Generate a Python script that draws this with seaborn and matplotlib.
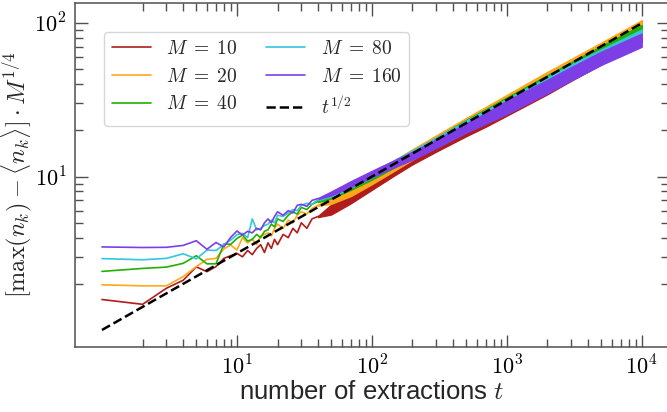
import math
import matplotlib
matplotlib.use("Agg")
import matplotlib.pyplot as plt
from matplotlib.lines import Line2D
from matplotlib.ticker import FixedLocator, FuncFormatter, NullFormatter
import seaborn as sns

# ---- data -------------------------------------------------------------
sizes = [10, 20, 40, 80, 160]
colors = ["#b01c1c", "#ffa71a", "#22b000", "#33c6dd", "#7d3ee6"]

# individual early-time values
t_early = list(range(1, 21)) + [22, 24, 26, 28, 30, 33, 36, 40]
early_m10 = [1.58, 1.47, 1.87, 2.11, 2.58, 2.40, 2.59, 2.93, 3.05, 3.16, 3.00, 3.30, 3.10, 3.40,
             3.60, 3.20, 3.70, 3.40, 3.90, 3.60, 4.20, 4.00, 4.60, 4.30, 5.00, 4.60, 5.30, 5.50]
early_m20 = [1.97, 1.94, 1.94, 2.23, 2.59, 2.89, 2.93, 3.38, 3.58, 3.32, 4.00, 3.70, 3.90, 3.60,
             4.10, 4.20, 4.30, 4.10, 4.60, 4.90, 4.60, 5.20, 5.00, 5.60, 5.90, 5.70, 6.20, 6.51]
early_m40 = [2.41, 2.52, 2.57, 2.72, 3.05, 2.70, 2.70, 3.64, 3.62, 3.95, 4.16, 3.80, 3.90, 4.20,
             4.00, 4.40, 4.50, 4.90, 4.70, 5.30, 5.10, 5.60, 5.90, 5.70, 6.30, 6.10, 6.60, 6.89]
early_m80 = [2.92, 2.87, 2.93, 3.14, 2.91, 3.32, 3.30, 3.60, 3.86, 4.18, 4.27, 4.00, 5.30, 4.50,
             4.60, 4.80, 4.90, 5.20, 5.00, 5.60, 5.50, 5.80, 6.10, 6.00, 6.50, 6.70, 6.60, 7.08]
early_m160 = [3.48, 3.45, 3.46, 3.56, 3.82, 3.36, 3.72, 3.48, 4.02, 4.42, 4.16, 4.40, 4.30, 4.60,
              4.50, 5.00, 5.30, 5.00, 5.50, 5.90, 5.60, 6.00, 5.80, 6.50, 6.60, 6.40, 7.00, 7.20]

# fluctuation envelope (lower / upper) at later times
t_late = [40, 50, 70, 100, 150, 200, 300, 500, 700, 1000, 2000, 3000, 5000, 7000, 10000]
lo_m10 = [5.44, 5.66, 6.70, 8.20, 10.29, 12.02, 14.55, 18.34, 21.17, 24.98, 34.43, 42.17, 53.74, 63.59, 76.0]
hi_m10 = [5.56, 6.58, 8.04, 9.80, 12.25, 14.42, 17.67, 22.81, 27.00, 32.25, 45.61, 55.87, 72.12, 85.34, 104.0]
lo_m20 = [6.45, 6.65, 7.47, 8.92, 11.04, 12.88, 15.85, 20.57, 24.34, 29.09, 41.14, 49.88, 63.76, 75.05, 89.2]
hi_m20 = [6.58, 7.35, 8.77, 10.48, 12.96, 15.12, 18.61, 24.15, 28.58, 34.15, 48.30, 58.56, 74.84, 88.11, 104.8]
lo_m40 = [6.82, 7.20, 8.20, 9.55, 11.58, 13.30, 16.29, 20.81, 24.50, 29.13, 40.78, 49.43, 63.14, 73.54, 86.5]
hi_m40 = [6.96, 7.64, 8.88, 10.45, 12.80, 14.70, 18.01, 23.47, 27.62, 32.85, 45.98, 55.73, 71.20, 82.92, 97.5]
lo_m80 = [7.01, 7.41, 8.44, 9.84, 11.75, 13.43, 16.29, 20.60, 24.13, 28.54, 39.52, 47.88, 59.82, 69.21, 80.8]
hi_m80 = [7.15, 7.87, 9.14, 10.76, 12.99, 14.85, 18.01, 23.22, 27.21, 32.18, 44.56, 54.00, 67.46, 78.05, 91.2]
lo_m160 = [7.13, 7.55, 8.56, 9.88, 11.58, 12.90, 15.38, 19.34, 22.15, 25.60, 35.00, 42.40, 53.50, 61.00, 70.2]
hi_m160 = [7.27, 8.01, 9.36, 10.92, 12.92, 14.54, 17.52, 22.26, 26.00, 31.30, 42.80, 51.80, 65.30, 74.60, 85.8]

# reference power law t^(1/2)
t_ref = [1, 10000]
ref = [1, 100]

early = [early_m10, early_m20, early_m40, early_m80, early_m160]
lows = [lo_m10, lo_m20, lo_m40, lo_m80, lo_m160]
highs = [hi_m10, hi_m20, hi_m40, hi_m80, hi_m160]

# ---- style --------------------------------------------------------------
sns.set_theme(style="ticks")
plt.rcParams["font.family"] = ["Liberation Sans", "DejaVu Sans"]
plt.rcParams["mathtext.fontset"] = "cm"
spine_col = "#505050"

fig = plt.figure(figsize=(6.67, 4.12), dpi=100)
ax = fig.add_axes([0.1124, 0.1585, 0.8902, 0.834])
ax.set_xscale("log")
ax.set_yscale("log")

for m, col, ye, lo, hi in zip(sizes, colors, early, lows, highs):
    sns.lineplot(x=t_early, y=ye, color=col, lw=1.2, ax=ax, legend=False)
    ax.fill_between(t_late, lo, hi, color=col, lw=0.9, edgecolor=col)

sns.lineplot(x=t_ref, y=ref, color="black", lw=1.8, ls="--", ax=ax, legend=False)

ax.set_xlim(10 ** -0.2, 10 ** 4.2)
ax.set_ylim(0.778, 135.4)

# ticks: decades with labels, minor ticks from 2 upwards
fmt = FuncFormatter(lambda v, pos: r"$10^{%d}$" % round(math.log10(v)))
ax.xaxis.set_major_locator(FixedLocator([10, 100, 1000, 10000]))
ax.yaxis.set_major_locator(FixedLocator([10, 100]))
ax.xaxis.set_minor_locator(FixedLocator([k * 10 ** d for d in range(0, 4) for k in range(2, 10)]))
ax.yaxis.set_minor_locator(FixedLocator([k * 10 ** d for d in range(0, 2) for k in range(2, 10)]))
ax.xaxis.set_major_formatter(fmt)
ax.yaxis.set_major_formatter(fmt)
ax.xaxis.set_minor_formatter(NullFormatter())
ax.yaxis.set_minor_formatter(NullFormatter())
ax.tick_params(which="both", direction="in", top=True, right=True,
               color=spine_col, labelcolor="black", labelsize=16, width=1.0)
ax.tick_params(which="major", length=9, pad=6)
ax.tick_params(which="minor", length=5.5)
for s in ax.spines.values():
    s.set_color(spine_col)
    s.set_linewidth(1.1)

ax.set_xlabel(r"number of extractions $t$", fontsize=18.5, labelpad=1)
ax.set_ylabel(r"$[\max(n_k) - \langle n_k \rangle]\cdot M^{1/4}$", fontsize=17.5)
ax.yaxis.set_label_coords(-0.069, 0.5)

handles = [Line2D([], [], color=c, lw=1.2) for c in colors]
handles.append(Line2D([], [], color="black", lw=1.8, ls="--"))
labels = [r"$M\;=\;%d$" % m for m in sizes] + [r"$t^{1/2}$"]
ax.legend(handles, labels, ncol=2, fontsize=14, loc="upper left",
          bbox_to_anchor=(0.0488, 0.9156), borderaxespad=0, frameon=True,
          edgecolor="#cccccc", fancybox=True, columnspacing=1.5)

fig.savefig("out.png", dpi=100)
